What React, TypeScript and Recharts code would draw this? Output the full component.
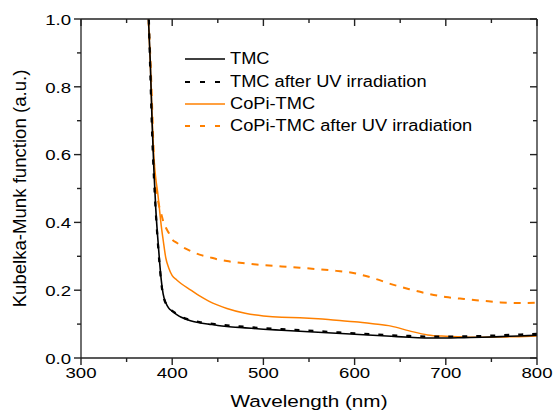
import React from "react";
import { LineChart, Line, XAxis, YAxis, Label, ReferenceLine } from "recharts";

// wavelength grid (nm) shared by all spectra
const wavelength = [
  374, 376, 378, 380, 382, 384, 386, 388, 390, 393, 396, 400,
  405, 410, 420, 430, 440, 450, 460,
  480, 500, 520, 540, 560, 580, 600, 620, 640, 660, 680, 700,
  720, 740, 760, 780, 800,
];

const tmc = [
  1.0, 0.87, 0.69, 0.55, 0.44, 0.36, 0.29, 0.23, 0.19, 0.163, 0.148, 0.138,
  0.128, 0.12, 0.11, 0.104, 0.1, 0.096, 0.093,
  0.089, 0.085, 0.082, 0.079, 0.076, 0.073, 0.07, 0.067, 0.064, 0.061, 0.059, 0.059,
  0.06, 0.061, 0.063, 0.065, 0.067,
];
const tmcUv = [
  1.04, 0.84, 0.66, 0.53, 0.43, 0.35, 0.28, 0.222, 0.186, 0.161, 0.148, 0.139,
  0.13, 0.122, 0.112, 0.106, 0.102, 0.099, 0.096,
  0.092, 0.088, 0.085, 0.082, 0.079, 0.076, 0.073, 0.07, 0.067, 0.065, 0.063, 0.063,
  0.064, 0.065, 0.067, 0.069, 0.071,
];
const copi = [
  0.99, 0.87, 0.71, 0.59, 0.53, 0.49, 0.44, 0.39, 0.35, 0.295, 0.267, 0.243,
  0.23, 0.219, 0.201, 0.183, 0.168, 0.156, 0.146,
  0.132, 0.124, 0.12, 0.119, 0.116, 0.111, 0.107, 0.101, 0.094, 0.08, 0.068, 0.064,
  0.062, 0.061, 0.062, 0.063, 0.065,
];
const copiUv = [
  1.0, 0.89, 0.74, 0.58, 0.5, 0.47, 0.445, 0.425, 0.405, 0.385, 0.37, 0.35,
  0.34, 0.33, 0.316, 0.305, 0.298, 0.291, 0.286,
  0.279, 0.274, 0.27, 0.266, 0.262, 0.257, 0.25, 0.236, 0.218, 0.203, 0.19, 0.18,
  0.174, 0.169, 0.164, 0.162, 0.163,
];

const seriesNames = ["TMC", "TMC after UV irradiation", "CoPi-TMC", "CoPi-TMC after UV irradiation"];

const xMajor = [300, 400, 500, 600, 700, 800];
const xMinor = [350, 450, 550, 650, 750];
const yMajor = [0, 0.2, 0.4, 0.6, 0.8, 1.0];
const yMinor = [0.1, 0.3, 0.5, 0.7, 0.9];

const data = wavelength.map((w, i) => ({
  w,
  tmc: tmc[i],
  tmcUv: tmcUv[i],
  copi: copi[i],
  copiUv: copiUv[i],
}));

const FONT = '"Liberation Sans", Arial, sans-serif';
const ORANGE = "#ff8000";
const AXIS = "#222";

// tick lengths converted to data units (plot is ~456 px wide for 500 nm, ~339 px tall for 1.0)
const NM_PER_PX = 500 / 456;
const UNIT_PER_PX = 1 / 339;
const MAJOR_PX = 7;
const MINOR_PX = 4;

const legendStyles = [
  { color: "#000", dash: undefined, width: 1.6 },
  { color: "#000", dash: "5 10", width: 2 },
  { color: ORANGE, dash: undefined, width: 1.6 },
  { color: ORANGE, dash: "5 10", width: 2 },
];

function XTick(props: any) {
  const { x, y, payload } = props;
  return (
    <text
      transform={`translate(${x},${y}) scale(1.2,1)`}
      textAnchor="middle"
      dy="0.72em"
      fontSize={15.5}
      fontFamily={FONT}
      fill="#000"
      stroke="none"
    >
      {payload.value}
    </text>
  );
}

function YTick(props: any) {
  const { x, y, payload } = props;
  return (
    <text
      transform={`translate(${x},${y}) scale(1.2,1)`}
      textAnchor="end"
      dy="0.38em"
      fontSize={15.5}
      fontFamily={FONT}
      fill="#000"
      stroke="none"
    >
      {Number(payload.value).toFixed(1)}
    </text>
  );
}

function XTitle(props: any) {
  const vb = props.viewBox;
  const cx = vb.x + vb.width / 2;
  const cy = vb.y + 37;
  return (
    <text
      transform={`translate(${cx},${cy}) scale(1.22,1)`}
      textAnchor="middle"
      dy="0.71em"
      fontSize={17}
      fontFamily={FONT}
      fill="#000"
      stroke="none"
    >
      Wavelength (nm)
    </text>
  );
}

function YTitle(props: any) {
  const vb = props.viewBox;
  const cx = vb.x + vb.width - 62;
  const cy = vb.y + vb.height / 2;
  return (
    <text
      transform={`translate(${cx},${cy}) rotate(-90)`}
      textAnchor="middle"
      dy="0.36em"
      fontSize={18.6}
      fontFamily={FONT}
      fill="#000"
      stroke="none"
    >
      Kubelka-Munk function (a.u.)
    </text>
  );
}

// tick marks as short reference segments: outward on bottom/left, inward on top/right
function tickSegments() {
  const out: React.ReactNode[] = [];
  const xs = [...xMajor.map((v) => [v, MAJOR_PX]), ...xMinor.map((v) => [v, MINOR_PX])];
  const ys = [...yMajor.map((v) => [v, MAJOR_PX]), ...yMinor.map((v) => [v, MINOR_PX])];
  xs.forEach(([v, len]) => {
    const dy = len * UNIT_PER_PX;
    out.push(
      <ReferenceLine key={`xb${v}`} xAxisId="b" yAxisId="l" ifOverflow="visible" stroke={AXIS} strokeWidth={1.4}
        segment={[{ x: v, y: 0 }, { x: v, y: -dy }]} />,
      <ReferenceLine key={`xt${v}`} xAxisId="b" yAxisId="l" ifOverflow="visible" stroke={AXIS} strokeWidth={1.4}
        segment={[{ x: v, y: 1 }, { x: v, y: 1 - dy }]} />
    );
  });
  ys.forEach(([v, len]) => {
    const dx = len * NM_PER_PX;
    out.push(
      <ReferenceLine key={`yl${v}`} xAxisId="b" yAxisId="l" ifOverflow="visible" stroke={AXIS} strokeWidth={1.4}
        segment={[{ x: 300 - dx, y: v }, { x: 300, y: v }]} />,
      <ReferenceLine key={`yr${v}`} xAxisId="b" yAxisId="l" ifOverflow="visible" stroke={AXIS} strokeWidth={1.4}
        segment={[{ x: 800 - dx, y: v }, { x: 800, y: v }]} />
    );
  });
  return out;
}

export default function App() {
  return (
    <div style={{ position: "absolute", left: 0, top: 0, width: 553, height: 414, background: "#fff" }}>
      <LineChart
        width={553}
        height={414}
        data={data}
        margin={{ top: 19, right: 16, bottom: 55, left: 80 }}
      >
        <XAxis
          xAxisId="b"
          dataKey="w"
          type="number"
          domain={[300, 800]}
          allowDataOverflow
          ticks={xMajor}
          interval={0}
          height={1}
          tickLine={false}
          tickSize={0}
          tickMargin={9}
          stroke={AXIS}
          strokeWidth={1.3}
          tick={<XTick />}
        >
          <Label position="bottom" content={<XTitle />} />
        </XAxis>
        <XAxis
          xAxisId="t"
          orientation="top"
          mirror
          dataKey="w"
          type="number"
          domain={[300, 800]}
          allowDataOverflow
          ticks={xMajor}
          interval={0}
          height={1}
          tickLine={false}
          tick={false}
          stroke={AXIS}
          strokeWidth={1.3}
        />
        <YAxis
          yAxisId="l"
          type="number"
          domain={[0, 1]}
          allowDataOverflow
          ticks={yMajor}
          interval={0}
          width={1}
          tickLine={false}
          tickSize={0}
          tickMargin={10}
          stroke={AXIS}
          strokeWidth={1.3}
          tick={<YTick />}
        >
          <Label position="left" content={<YTitle />} />
        </YAxis>
        <YAxis
          yAxisId="r"
          orientation="right"
          mirror
          type="number"
          domain={[0, 1]}
          allowDataOverflow
          ticks={yMajor}
          interval={0}
          width={1}
          tickLine={false}
          tick={false}
          stroke={AXIS}
          strokeWidth={1.3}
        />

        {tickSegments()}

        <Line
          xAxisId="t"
          yAxisId="r"
          type="monotone"
          dataKey="copiUv"
          stroke={ORANGE}
          strokeWidth={2}
          strokeDasharray="7 7"
          dot={false}
          isAnimationActive={false}
        />
        <Line
          xAxisId="t"
          yAxisId="r"
          type="monotone"
          dataKey="copi"
          stroke={ORANGE}
          strokeWidth={1.5}
          dot={false}
          isAnimationActive={false}
        />
        <Line
          xAxisId="b"
          yAxisId="l"
          type="monotone"
          dataKey="tmc"
          stroke="#000"
          strokeWidth={1.6}
          dot={false}
          isAnimationActive={false}
        />
        <Line
          xAxisId="b"
          yAxisId="l"
          type="monotone"
          dataKey="tmcUv"
          stroke="#000"
          strokeWidth={2.2}
          strokeDasharray="5 9"
          dot={false}
          isAnimationActive={false}
        />
      </LineChart>
      <div style={{ position: "absolute", left: 185, top: 48, fontFamily: FONT, fontSize: 16, color: "#000" }}>
        {seriesNames.map((name, i) => (
          <div key={name} style={{ display: "flex", alignItems: "center", height: 22.4, whiteSpace: "nowrap" }}>
            <svg width={40} height={10} style={{ display: "block" }}>
              <line
                x1={0}
                y1={5}
                x2={40}
                y2={5}
                stroke={legendStyles[i].color}
                strokeWidth={legendStyles[i].width}
                strokeDasharray={legendStyles[i].dash}
              />
            </svg>
            <span style={{ marginLeft: 5, display: "inline-block", transform: "scaleX(1.14)", transformOrigin: "left center" }}>
              {name}
            </span>
          </div>
        ))}
      </div>
    </div>
  );
}
